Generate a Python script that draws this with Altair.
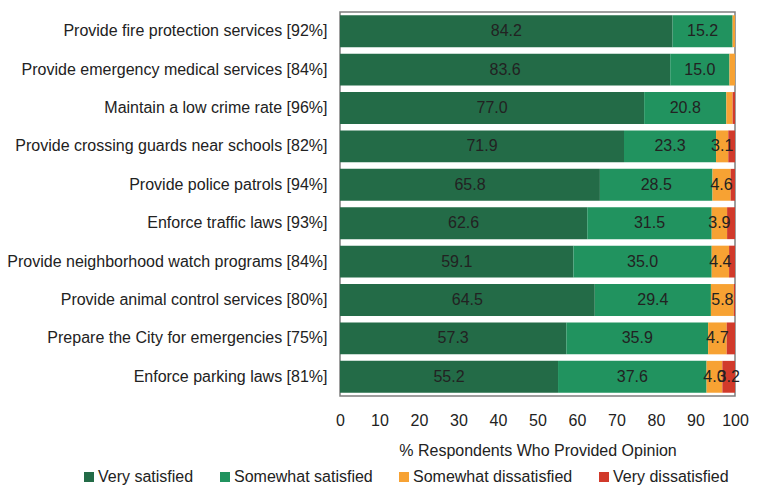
import altair as alt
import pandas as pd

services = [
    "Provide fire protection services [92%]",
    "Provide emergency medical services [84%]",
    "Maintain a low crime rate [96%]",
    "Provide crossing guards near schools [82%]",
    "Provide police patrols [94%]",
    "Enforce traffic laws [93%]",
    "Provide neighborhood watch programs [84%]",
    "Provide animal control services [80%]",
    "Prepare the City for emergencies [75%]",
    "Enforce parking laws [81%]",
]
very_satisfied = [84.2, 83.6, 77.0, 71.9, 65.8, 62.6, 59.1, 64.5, 57.3, 55.2]
somewhat_satisfied = [15.2, 15.0, 20.8, 23.3, 28.5, 31.5, 35.0, 29.4, 35.9, 37.6]
somewhat_dissatisfied = [0.6, 1.4, 1.6, 3.1, 4.6, 3.9, 4.4, 5.8, 4.7, 4.0]
very_dissatisfied = [0.0, 0.0, 0.6, 1.7, 1.1, 2.0, 1.5, 0.3, 2.1, 3.2]
x_ticks = [0, 10, 20, 30, 40, 50, 60, 70, 80, 90, 100]

levels = ["Very satisfied", "Somewhat satisfied", "Somewhat dissatisfied", "Very dissatisfied"]
colors = ["#236B47", "#21935F", "#F7A233", "#D13A2B"]

series = [very_satisfied, somewhat_satisfied, somewhat_dissatisfied, very_dissatisfied]
rows = []
for i, s in enumerate(services):
    for j, lv in enumerate(levels):
        v = series[j][i]
        rows.append({
            "service": s,
            "level": lv,
            "order": j,
            "value": v,
            "label": f"{v:.1f}" if v >= 3 else "",
        })
df = pd.DataFrame(rows)

FONT = "Liberation Sans"
FS = 16
TXT = "#222222"

base = alt.Chart(df).transform_stack(
    stack="value",
    groupby=["service"],
    sort=[alt.SortField("order", order="ascending")],
    as_=["start", "end"],
).transform_calculate(mid="(datum.start + datum.end) / 2")

yscale = alt.Scale(paddingInner=0.17, paddingOuter=0.085)
xscale = alt.Scale(domain=[0, 100], nice=False)

yaxis = alt.Axis(
    title=None, ticks=False, domain=False, labelFontSize=FS,
    labelColor=TXT, labelPadding=13, labelLimit=400, labelFont=FONT,
)
xaxis = alt.Axis(
    values=x_ticks,
    title="% Respondents Who Provided Opinion",
    ticks=False, domain=False, grid=False,
    labelOverlap=False, labelFlush=False,
    labelFontSize=FS, labelColor=TXT, labelFont=FONT, labelPadding=16,
    titleFontSize=FS, titleFontWeight="normal", titleColor=TXT,
    titleFont=FONT, titlePadding=14,
)

bars = base.mark_bar().encode(
    y=alt.Y("service:N", sort=services, scale=yscale, axis=yaxis),
    x=alt.X("start:Q", scale=xscale, axis=xaxis),
    x2="end:Q",
    color=alt.Color(
        "level:N",
        sort=levels,
        scale=alt.Scale(domain=levels, range=colors),
        legend=alt.Legend(
            title=None, orient="none", direction="horizontal", columns=4,
            legendX=-259, legendY=457, symbolType="square", symbolSize=100,
            symbolStrokeWidth=0, labelFontSize=FS, labelColor=TXT,
            labelFont=FONT, columnPadding=23, labelOffset=1,
        ),
    ),
    order=alt.Order("order:Q"),
)

texts = base.mark_text(fontSize=FS, color=TXT, font=FONT).encode(
    y=alt.Y("service:N", sort=services, scale=yscale, axis=yaxis),
    x=alt.X("mid:Q", scale=xscale, axis=xaxis),
    text="label:N",
)

chart = (
    alt.layer(bars, texts)
    .properties(
        width=395, height=384,
        autosize=alt.AutoSizeParams(type="none"),
        padding={"left": 340, "top": 12, "right": 29, "bottom": 89},
    )
    .configure_view(stroke="#7f7f7f", strokeWidth=1.5)
)

chart.save("out.html", embed_options={"renderer": "svg", "actions": False})
